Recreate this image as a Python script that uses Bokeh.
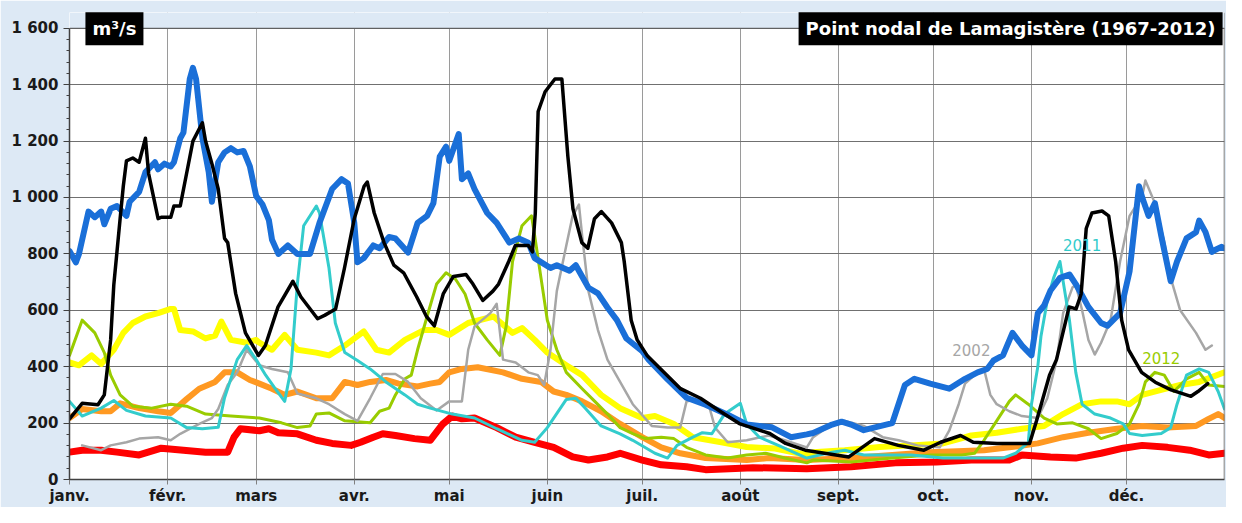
from bokeh.plotting import figure
from bokeh.models import (Range1d, FixedTicker, SingleIntervalTicker, Label,
                          ColumnDataSource, BoxAnnotation, Span)
from bokeh.core.properties import value
from bokeh.embed import file_html
from bokeh.resources import INLINE

# ---------------- data (day of year, flow m3/s) ----------------
month_starts = [0, 31, 59, 90, 120, 151, 181, 212, 243, 273, 304, 334]
month_labels = ["janv.", "févr.", "mars", "avr.", "mai", "juin",
                "juil.", "août", "sept.", "oct.", "nov.", "déc."]
y_ticks = [0, 200, 400, 600, 800, 1000, 1200, 1400, 1600]
y_tick_labels = ["0", "200", "400", "600", "800", "1 000", "1 200", "1 400", "1 600"]

blue_day = [0, 2, 3, 6, 8, 10, 11, 13, 15, 18, 19, 22, 24, 27, 28, 30, 32, 33, 35, 36, 38, 39, 40,
            42, 44, 45, 47, 49, 51, 53, 55, 57, 59, 61, 63, 64, 66, 69, 72, 76, 79, 83, 86, 88, 90,
            91, 93, 96, 98, 101, 103, 107, 110, 113, 115, 117, 119, 120, 123, 124, 126, 128, 132,
            135, 139, 142, 145, 147, 152, 154, 158, 160, 164, 167, 170, 173, 176, 181, 183, 189,
            195, 201, 208, 214, 222, 228, 233, 235, 241, 244, 247, 251, 260, 264, 267, 272, 278,
            283, 287, 290, 292, 295, 298, 301, 304, 306, 308, 310, 313, 316, 318, 322, 326, 328,
            332, 335, 338, 339, 341, 343, 345, 348, 350, 353, 356, 357, 359, 361, 362, 364, 365]
blue_val = [810, 770, 800, 950, 930, 950, 905, 960, 970, 935, 985, 1020, 1090, 1125, 1100, 1120,
            1110, 1125, 1210, 1230, 1420, 1460, 1420, 1210, 1090, 985, 1125, 1160, 1175, 1160,
            1165, 1110, 1005, 975, 920, 850, 800, 830, 800, 800, 910, 1030, 1065, 1050, 910, 770,
            785, 830, 820, 860, 855, 805, 910, 935, 980, 1145, 1180, 1130, 1225, 1065, 1085, 1030,
            945, 910, 840, 855, 840, 785, 750, 760, 740, 760, 680, 660, 610, 565, 500, 455, 425,
            355, 290, 265, 230, 195, 185, 150, 160, 165, 195, 205, 195, 175, 200, 335, 357, 340,
            322, 357, 380, 392, 422, 440, 520, 475, 440, 590, 617, 670, 715, 727, 693, 612, 555,
            545, 590, 738, 1040, 1000, 935, 980, 865, 703, 773, 855, 877, 918, 877, 807, 814, 825,
            820]

black_day = [0, 4, 9, 11, 13, 14, 16, 17, 18, 20, 22, 24, 25, 28, 29, 32, 33, 35, 37, 39, 42, 43,
             45, 47, 49, 50, 52.5, 55.6, 59.7, 61.9, 65.9, 70.6, 73.1, 78.4, 80.6, 84.1, 86.9, 90,
             93.1, 94.1, 96.3, 99.4, 102.5, 105.6, 109.7, 112.8, 115.3, 118.1, 121.3, 125.3, 127.5,
             130.6, 133.8, 135.6, 138.8, 140.9, 145, 146.3, 147.2, 148.1, 150.3, 153.4, 155.6, 157.5,
             159.1, 161.9, 163.8, 165.9, 168.1, 171.3, 174.4, 175.3, 177.5, 179.4, 182.5, 188.8,
             193.1, 199.4, 205.6, 211.9, 221.3, 226.3, 232.5, 246.3, 254.4, 261.9, 270, 275.3,
             281.6, 285.6, 293.1, 303.4, 305.6, 309.7, 311.9, 315.9, 318.1, 319.7, 321.3, 323.1,
             326.3, 328.4, 330.6, 332.5, 334.7, 338.8, 343.1, 348.1, 354.4, 356.6, 359.7]
black_val = [215, 270, 265, 300, 495, 690, 925, 1040, 1130, 1140, 1125, 1210, 1085, 925, 930, 930,
             970, 970, 1085, 1200, 1265, 1200, 1120, 1030, 855, 840, 660, 520, 440, 475, 612, 703,
             648, 570, 582, 605, 750, 925, 1040, 1055, 945, 840, 760, 733, 648, 578, 545, 658, 720,
             727, 693, 635, 668, 693, 773, 830, 830, 807, 945, 1305, 1375, 1420, 1420, 1145, 960,
             840, 820, 925, 950, 910, 840, 773, 565, 495, 440, 370, 322, 288, 242, 197, 163, 128,
             104, 80, 145, 121, 104, 132, 156, 132, 128, 128, 208, 370, 425, 612, 605, 658, 890,
             945, 952, 935, 773, 565, 460, 380, 345, 318, 295, 312, 340]

yellow_day = [0, 3, 7, 10, 14, 17, 20, 24, 28, 32, 33, 35, 39, 43, 46, 48, 51, 56, 59, 60, 64, 68,
              72, 78, 82, 87, 93, 97, 101, 106, 112, 116, 120, 126, 134, 140, 143, 147, 151, 157,
              162, 168, 174, 181, 185, 191, 197, 206, 214, 223, 233, 235, 245, 256, 266, 276, 285,
              293, 301, 308, 314, 320, 326, 331, 335, 339, 345, 351, 357, 365]
yellow_val = [415, 405, 440, 410, 460, 520, 555, 578, 590, 605, 605, 530, 525, 500, 510, 560, 495,
              485, 495, 485, 460, 513, 460, 450, 440, 475, 525, 460, 450, 495, 530, 530, 513, 555,
              578, 520, 537, 495, 450, 405, 370, 300, 253, 218, 225, 197, 150, 132, 115, 110, 87,
              97, 104, 115, 121, 128, 156, 166, 180, 190, 232, 267, 277, 277, 267, 300, 318, 335,
              346, 380]

orange_day = [0, 4, 10, 13, 16, 22, 28, 32, 37, 41, 46, 49, 53, 57, 60, 64, 68, 72, 78, 83, 87, 91,
              95, 100, 104, 110, 114, 117, 120, 124, 129, 137, 143, 149, 153, 157, 162, 168, 174,
              181, 187, 193, 201, 214, 221, 233, 247, 260, 272, 289, 297, 306, 314, 322, 331, 339,
              347, 356, 360, 363, 365]
orange_val = [218, 250, 242, 242, 270, 253, 242, 236, 285, 322, 346, 380, 380, 353, 340, 322, 300,
              312, 288, 288, 346, 335, 346, 353, 340, 330, 340, 346, 380, 392, 398, 380, 357, 346,
              312, 300, 277, 242, 197, 150, 114, 93, 76, 69, 76, 69, 76, 87, 97, 104, 114, 128,
              150, 166, 180, 190, 184, 190, 215, 232, 218]

red_day = [0, 4, 10, 15, 22, 29, 36, 43, 50, 52, 54, 60, 63, 66, 72, 78, 83, 89, 92, 96, 99, 103,
           109, 114, 118, 121, 124, 128, 135, 141, 147, 153, 159, 164, 170, 174, 181, 187, 195, 201,
           216, 233, 247, 261, 274, 285, 297, 301, 310, 318, 326, 333, 339, 347, 354, 360, 365]
red_val = [97, 104, 104, 97, 87, 111, 104, 97, 97, 150, 180, 173, 180, 166, 162, 139, 128, 121, 132,
           150, 162, 156, 145, 139, 197, 225, 215, 218, 184, 150, 132, 114, 80, 69, 80, 93, 69, 52,
           45, 35, 42, 38, 45, 59, 62, 69, 69, 87, 80, 76, 93, 111, 121, 114, 104, 87, 93]

cyan_day = [0, 4, 10, 14, 18, 24, 32, 37, 42, 47, 49, 53, 56, 59, 62, 65, 68, 70, 72, 74, 78, 79,
            82, 84, 87, 91, 95, 100, 106, 110, 114, 121, 128, 135, 143, 147, 151, 157, 160, 163, 168,
            174, 178, 185, 189, 192, 197, 200, 203, 207, 212, 214, 218, 224, 233, 241, 245, 251,
            266, 276, 295, 299, 303, 304, 306, 307, 309, 311, 313, 314, 316, 318, 320, 324, 329,
            333, 335, 339, 345, 348, 350, 353, 357, 360, 363, 365]
cyan_val = [277, 225, 253, 280, 245, 225, 218, 184, 180, 185, 290, 425, 475, 425, 370, 322, 277,
            392, 693, 900, 970, 945, 750, 555, 450, 422, 392, 346, 300, 267, 253, 232, 218, 180,
            139, 132, 184, 284, 288, 253, 190, 162, 139, 93, 76, 121, 150, 166, 162, 232, 270, 197,
            150, 121, 76, 97, 104, 87, 87, 76, 76, 93, 132, 267, 400, 508, 635, 715, 773, 703, 565,
            380, 267, 232, 218, 197, 163, 156, 163, 184, 267, 370, 392, 380, 312, 250]

gray_day = [4, 10, 13, 18, 22, 28, 32, 35, 41, 45, 47, 50, 53, 56, 60, 64, 69, 72, 78, 82, 87, 91,
            95, 99, 103, 107, 111, 116, 120, 124, 126, 128, 133, 135, 137, 141, 145, 148, 150, 152,
            154, 157, 159, 161, 162, 164, 167, 170, 174, 178, 184, 189, 193, 195, 199, 202, 204,
            208, 214, 221, 226, 233, 235, 241, 245, 251, 257, 262, 268, 275, 278, 281, 283, 287,
            289, 291, 293, 297, 301, 306, 309, 312, 314, 317, 318, 320, 322, 324, 326, 329, 332,
            335, 339, 340, 343, 346, 348, 351, 356, 359, 361]
gray_val = [121, 104, 121, 132, 145, 150, 139, 162, 197, 218, 250, 335, 380, 460, 405, 392, 380,
            305, 288, 267, 232, 208, 288, 374, 374, 346, 288, 245, 277, 277, 460, 543, 590, 623,
            425, 415, 380, 370, 335, 460, 668, 830, 935, 975, 865, 668, 530, 425, 346, 267, 190,
            184, 184, 277, 284, 265, 184, 132, 139, 156, 139, 114, 150, 197, 208, 190, 150, 139,
            121, 114, 173, 267, 340, 380, 392, 300, 267, 242, 225, 218, 288, 425, 590, 682, 690,
            600, 495, 443, 485, 565, 773, 935, 1005, 1060, 980, 840, 715, 600, 520, 460, 475]

green_day = [0, 4, 8, 11, 13, 16, 20, 26, 32, 37, 43, 51, 60, 67, 72, 76, 78, 82, 87, 91, 95, 98,
             101, 103, 106, 108, 110, 113, 116, 119, 122, 125, 128, 132, 136, 138, 140, 143, 146,
             147, 149, 151, 154, 157, 162, 166, 170, 174, 178, 182, 187, 191, 195, 201, 208, 214,
             220, 226, 233, 235, 247, 260, 272, 282, 286, 289, 293, 297, 299, 303, 308, 312, 317,
             322, 326, 331, 335, 338, 340, 343, 346, 349, 353, 357, 360, 365]
green_val = [440, 565, 520, 450, 370, 300, 260, 253, 267, 260, 232, 225, 218, 201, 184, 190, 232,
             236, 208, 205, 201, 242, 253, 300, 357, 370, 460, 578, 693, 733, 710, 658, 555, 495,
             440, 543, 773, 900, 935, 865, 715, 565, 460, 380, 322, 277, 232, 184, 163, 145, 150,
             145, 114, 87, 76, 87, 93, 76, 59, 69, 62, 76, 87, 87, 93, 139, 208, 277, 300, 267,
             218, 197, 201, 180, 145, 163, 197, 267, 346, 380, 370, 312, 357, 380, 335, 330]

year_labels = ["2002", "2011", "2012"]
year_label_day = [285, 320, 345]
year_label_val = [460, 831, 430]
year_label_color = ["#a6a6a6", "#33cccc", "#99cc00"]

title_text = "Point nodal de Lamagistère (1967-2012)"
unit_text = "m³/s"

# ---------------- figure ----------------
FONT = "DejaVu Sans"
BG = "#dde9f5"
Y_MAX = 1600
Y_TOP = 1656   # a little room above the frame top line for the black boxes
p = figure(width=1226, height=507, output_backend="svg", toolbar_location=None,
           x_range=Range1d(0, 365), y_range=Range1d(0, Y_TOP),
           min_border_left=69, min_border_right=2, min_border_top=12, min_border_bottom=25)
p.border_fill_color = BG
p.background_fill_color = "white"
p.outline_line_color = None

# axes
xa = p.xaxis[0]
xa.ticker = FixedTicker(ticks=month_starts)
xa.major_label_overrides = {m: l for m, l in zip(month_starts, month_labels)}
xa.major_label_text_font = FONT
xa.major_label_text_font_style = "bold"
xa.major_label_text_font_size = "15px"
xa.major_label_text_color = "#1a1a1a"
xa.major_tick_out = 5
xa.major_tick_in = 0
xa.minor_tick_out = 0
xa.minor_tick_in = 0
xa.axis_line_color = "#404040"
xa.axis_line_width = 1.5
xa.major_tick_line_color = "#808080"
xa.major_label_standoff = 2

ya = p.yaxis[0]
ya.bounds = (0, Y_MAX)
ya.ticker = SingleIntervalTicker(interval=200, num_minor_ticks=5)
ya.major_label_overrides = {t: l for t, l in zip(y_ticks, y_tick_labels)}
ya.major_label_text_font = FONT
ya.major_label_text_font_style = "bold"
ya.major_label_text_font_size = "15px"
ya.major_label_text_color = "#1a1a1a"
ya.major_tick_out = 6
ya.major_tick_in = 0
ya.minor_tick_out = 3
ya.minor_tick_in = 0
ya.axis_line_color = "#404040"
ya.axis_line_width = 1.5
ya.major_tick_line_color = "#404040"
ya.minor_tick_line_color = "#404040"
ya.major_label_standoff = 5

p.xgrid.ticker = FixedTicker(ticks=month_starts)
p.xgrid.grid_line_color = "#9a9a9a"
p.xgrid.grid_line_width = 1
p.ygrid.ticker = SingleIntervalTicker(interval=200)
p.ygrid.grid_line_color = "#707070"
p.ygrid.grid_line_width = 1

# series (draw order)
series = [
    (red_day, red_val, "#ff0000", 7),
    (orange_day, orange_val, "#ff9922", 6),
    (yellow_day, yellow_val, "#ffff00", 6),
    (green_day, green_val, "#99cc00", 3),
    (gray_day, gray_val, "#a6a6a6", 2.5),
    (cyan_day, cyan_val, "#33cccc", 3),
    (blue_day, blue_val, "#1a6fd8", 6),
    (black_day, black_val, "#000000", 3.5),
]
for d, v, c, w in series:
    src = ColumnDataSource(dict(x=d, y=v))
    p.line("x", "y", source=src, line_color=c, line_width=w, line_join="round", line_cap="round")

for t, d, v, c in zip(year_labels, year_label_day, year_label_val, year_label_color):
    p.add_layout(Label(x=d, y=v, text=t, text_color=c, text_font=FONT, text_font_size="15px",
                       text_align="center", text_baseline="middle"))

# frame: right edge, cover strip above the top line, top line
p.add_layout(Span(location=365, dimension="height", line_color="#555555", line_width=1.5))
p.add_layout(BoxAnnotation(bottom=Y_MAX, fill_color=BG, fill_alpha=1.0, line_color=None))
p.add_layout(Span(location=Y_MAX, dimension="width", line_color="#555555", line_width=1))

# black boxed labels straddling the top line
boxes = [(14.2, 58, unit_text), (297.4, 424, title_text)]
for bx, bw, txt in boxes:
    p.rect(x=[bx], y=[1598], width=bw, height=33, width_units="screen", height_units="screen",
           fill_color="black", line_color=None, level="overlay")
    p.text(x=[bx], y=[1598], text=[txt], text_color="white", text_font=value(FONT),
           text_font_style="bold", text_font_size="18px", text_align="center",
           text_baseline="middle", level="overlay")

open("out.html", "w").write(file_html(p, INLINE))
